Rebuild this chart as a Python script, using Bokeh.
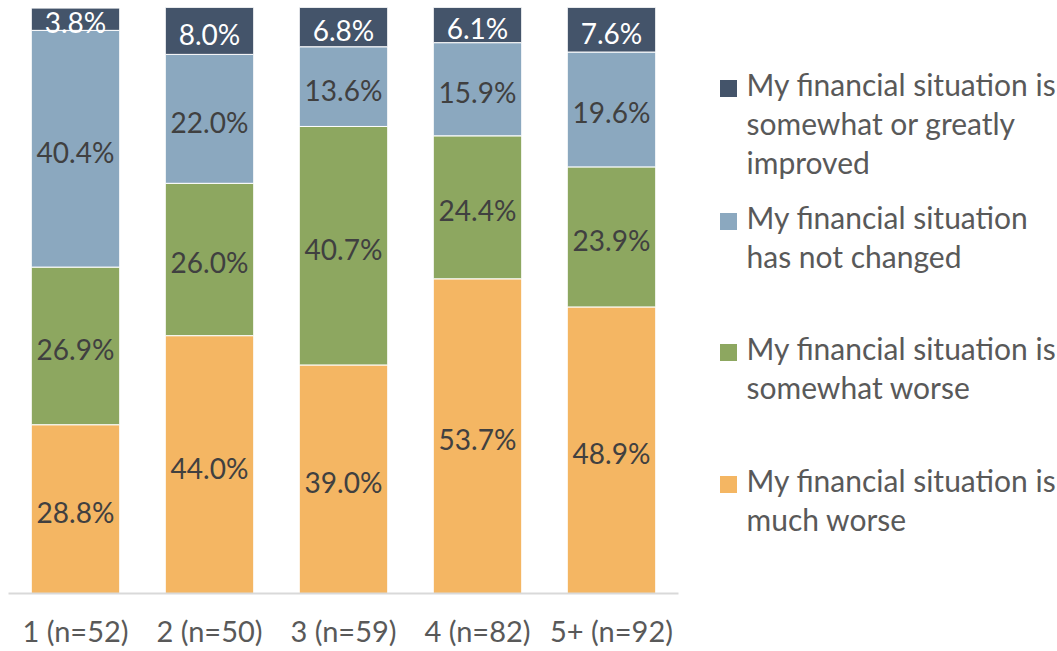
from bokeh.plotting import figure
from bokeh.models import ColumnDataSource, Range1d, FactorRange
from bokeh.layouts import row
from bokeh.core.properties import value
from bokeh.embed import file_html
from bokeh.resources import INLINE

categories = ["1 (n=52)", "2 (n=50)", "3 (n=59)", "4 (n=82)", "5+ (n=92)"]
much_worse = [28.8, 44.0, 39.0, 53.7, 48.9]
somewhat_worse = [26.9, 26.0, 40.7, 24.4, 23.9]
not_changed = [40.4, 22.0, 13.6, 15.9, 19.6]
improved = [3.8, 8.0, 6.8, 6.1, 7.6]

series_keys = ["much_worse", "somewhat_worse", "not_changed", "improved"]
series_values = [much_worse, somewhat_worse, not_changed, improved]
colors = ["#F4B663", "#8DA760", "#8BA8BF", "#44546A"]
label_colors = ["#404040", "#404040", "#404040", "#FFFFFF"]
legend_lines = [
    ["My financial situation is", "somewhat or greatly", "improved"],
    ["My financial situation", "has not changed"],
    ["My financial situation is", "somewhat worse"],
    ["My financial situation is", "much worse"],
]
legend_colors = ["#44546A", "#8BA8BF", "#8DA760", "#F4B663"]

FONT = "Lato"
H = 650
TOP = 7
FRAME_BOTTOM = 593

data = {"cat": categories}
for k, v in zip(series_keys, series_values):
    data[k] = v
source = ColumnDataSource(data)

p = figure(x_range=FactorRange(*categories), y_range=Range1d(0, 100),
           width=698, height=H, output_backend="svg", toolbar_location=None,
           y_axis_location=None,
           min_border_left=8, min_border_right=20, min_border_top=TOP, min_border_bottom=40)
p.vbar_stack(series_keys, x="cat", width=0.66, color=colors, line_color="white",
             line_width=1, source=source)

# data labels
bottom = [0.0] * len(categories)
for vals, lc in zip(series_values, label_colors):
    mids = [b + v / 2 for b, v in zip(bottom, vals)]
    texts = ["%.1f%%" % v for v in vals]
    p.text(x=categories, y=mids, text=texts, text_align="center", text_baseline="middle",
           text_font=value(FONT), text_font_size="28px", text_color=lc, y_offset=3)
    bottom = [b + v for b, v in zip(bottom, vals)]

p.xgrid.visible = False
p.ygrid.visible = False
p.outline_line_color = None
p.xaxis.axis_line_color = "#D9D9D9"
p.xaxis.axis_line_width = 2
p.xaxis.major_tick_line_color = None
p.xaxis.minor_tick_line_color = None
p.xaxis.major_label_text_font = FONT
p.xaxis.major_label_text_font_size = "29px"
p.xaxis.major_label_text_color = "#595959"
p.xaxis.major_label_standoff = 13

# legend panel (frame is aligned with the main frame; data units = page pixels)
lg = figure(x_range=Range1d(698, 1057), y_range=Range1d(FRAME_BOTTOM, TOP), width=359, height=H,
            output_backend="svg", toolbar_location=None,
            x_axis_location=None, y_axis_location=None,
            min_border_left=0, min_border_right=0, min_border_top=TOP,
            min_border_bottom=H - FRAME_BOTTOM)
lg.grid.visible = False
lg.outline_line_color = None
item_y = [83, 216, 347, 479]
line_gap = 39
for y0, lines, c in zip(item_y, legend_lines, legend_colors):
    lg.rect(x=[728], y=[y0 + 5], width=17, height=17, fill_color=c, line_color=None)
    ys = [y0 + i * line_gap for i in range(len(lines))]
    lg.text(x=[746] * len(lines), y=ys, text=lines, text_align="left", text_baseline="middle",
            text_font=value(FONT), text_font_size="30px", text_color="#595959")

layout = row(p, lg)
open("out.html", "w").write(file_html(layout, INLINE))
